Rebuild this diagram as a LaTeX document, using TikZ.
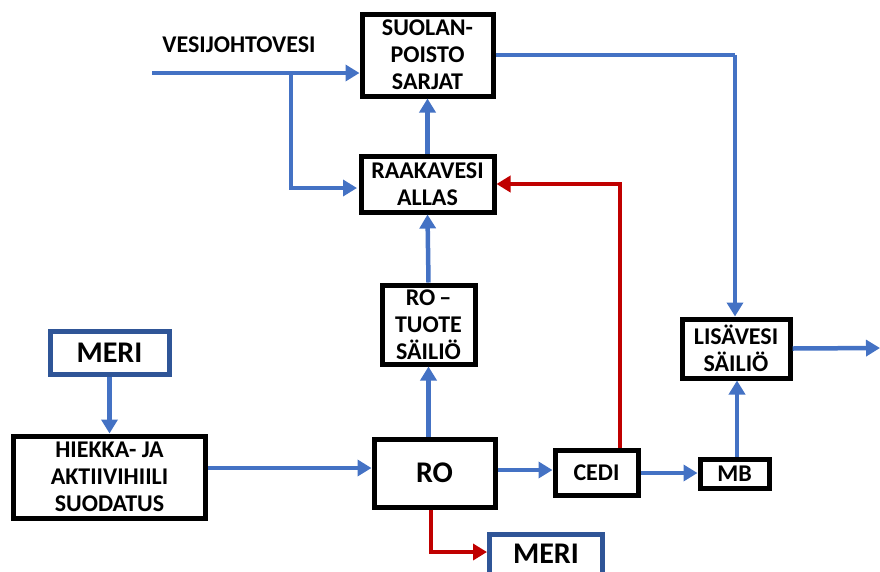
\documentclass[tikz,border=0pt]{standalone}
\usepackage{fontspec}
\setmainfont{Carlito}
\usetikzlibrary{arrows.meta}
\definecolor{flowblue}{RGB}{68,114,196}
\definecolor{flowred}{RGB}{192,0,0}
\definecolor{meriblue}{RGB}{47,85,151}
\begin{document}
\begin{tikzpicture}[x=1pt,y=-1pt,
  box/.style={draw=black,line width=5pt,fill=white,inner sep=0pt,align=center,
    font=\fontsize{24}{27}\selectfont\bfseries,text=black},
  meribox/.style={box,draw=meriblue,font=\fontsize{30}{32}\selectfont\bfseries},
  bigbox/.style={box,font=\fontsize{30}{32}\selectfont\bfseries},
  bflow/.style={draw=flowblue,line width=4.5pt,-{Triangle[length=14pt,width=16pt]}},
  rflow/.style={draw=flowred,line width=4.5pt,-{Triangle[length=14pt,width=16pt]}},
  bline/.style={draw=flowblue,line width=4.5pt}]
\useasboundingbox (0,0) rectangle (880,571);
\begin{scope}
\clip (0,0) rectangle (880,571);
% nodes
\node[box,minimum width=131pt,minimum height=82pt] (suo) at (427.5,55) {SUOLAN-\\POISTO\\SARJAT};
\node[box,minimum width=133pt,minimum height=56pt] (raa) at (427.5,184) {RAAKAVESI\\ALLAS};
\node[box,minimum width=93pt,minimum height=79pt] (rot) at (428.5,324.5) {RO\,--\\TUOTE\\SÄILIÖ};
\node[box,minimum width=108pt,minimum height=59pt] (lis) at (736,348.5) {LISÄVESI\\SÄILIÖ};
\node[box,minimum width=69pt,minimum height=29pt] (mb) at (734.5,473.5) {MB};
\node[box,minimum width=83pt,minimum height=45pt] (cedi) at (596.5,472.5) {CEDI};
\node[bigbox,minimum width=121pt,minimum height=68pt] (ro) at (434.5,473) {RO};
\node[box,minimum width=192pt,minimum height=82pt] (hie) at (109.5,477) {HIEKKA- JA\\AKTIIVIHIILI\\SUODATUS};
\node[meribox,minimum width=119pt,minimum height=43pt] (meri1) at (109.5,353) {MERI};
\node[meribox,minimum width=113pt,minimum height=44pt,text height=19pt,text depth=5pt,anchor=north west] (meri2) at (487,532) {MERI};
\node[font=\fontsize{24}{27}\selectfont\bfseries,text=black,inner sep=0pt] (vesi) at (239,45) {VESIJOHTOVESI};
% coordinates
\coordinate (win) at (152,73);
\coordinate (br) at (291,73);
\coordinate (brend) at (357,188);
\coordinate (rtop) at (620,184);
\coordinate (out) at (880,348);
\coordinate (topright) at (735,55);
\coordinate (rofoot) at (431,552);
% connectors
\draw[bflow] (win) -- (suo.west |- win);
\draw[bflow] (br) |- (brend);
\draw[bflow] (raa.north) -- (suo.south);
\draw[bline] (suo.east |- topright) -- (topright);
\draw[bflow] (topright) -- (lis.north -| topright);
\draw[bflow] (rot.north) -- (raa.south);
\draw[bflow] (ro.north -| rot.north) -- (rot.south);
\draw[rflow] (cedi.north -| rtop) -- (rtop) -- (raa.east |- rtop);
\draw[bflow] (hie.east |- 0,468) -- (ro.west |- 0,468);
\draw[bflow] (meri1.south) -- (hie.north);
\draw[bflow] (ro.east |- 0,470) -- (cedi.west |- 0,470);
\draw[bflow] (cedi.east |- 0,473) -- (mb.west |- 0,473);
\draw[bflow] (mb.north -| 737,0) -- (lis.south -| 737,0);
\draw[bflow] (lis.east) -- (out);
\draw[rflow] (ro.south -| rofoot) -- (rofoot) -- (meri2.west |- rofoot);
\end{scope}
\end{tikzpicture}
\end{document}
